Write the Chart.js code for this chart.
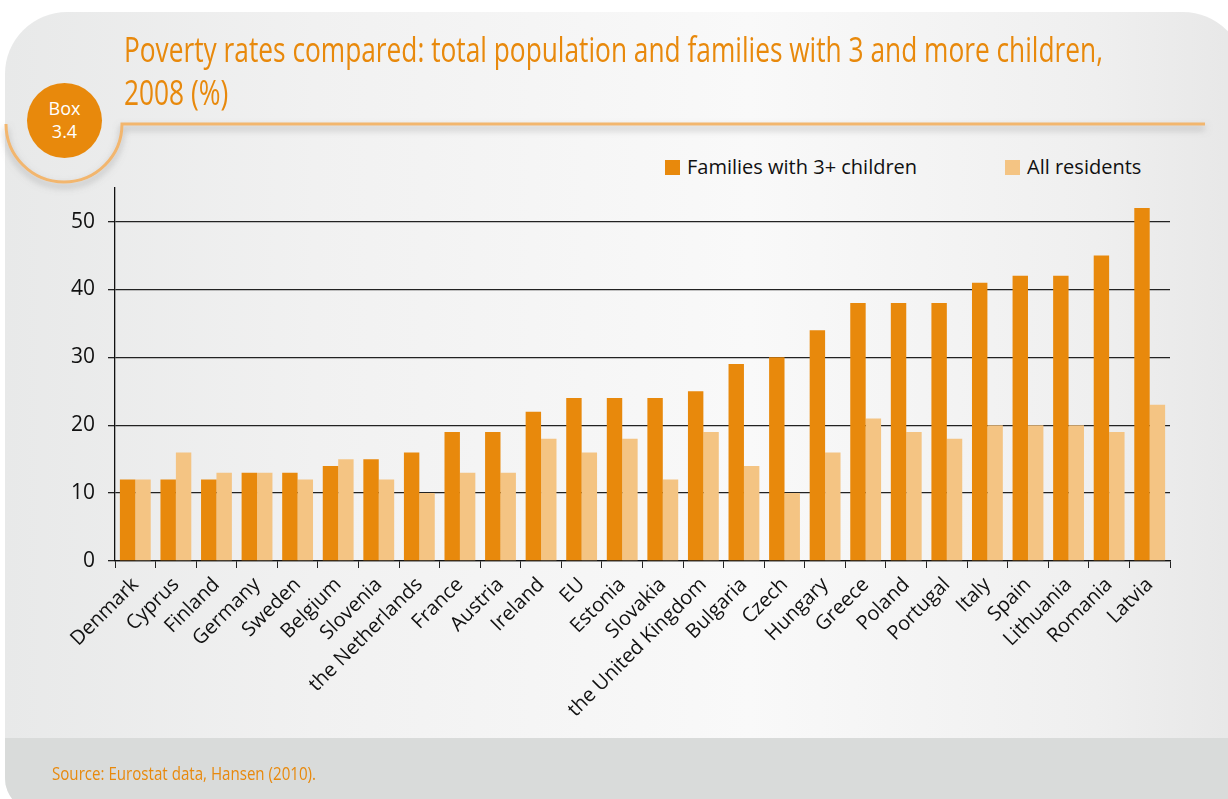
<!DOCTYPE html>
<html>
<head>
<meta charset="utf-8">
<script src="https://cdn.jsdelivr.net/npm/chart.js@4"></script>
<style>
  html, body { margin: 0; padding: 0; background: #fff; }
  #page { position: relative; width: 1228px; height: 799px; overflow: hidden; font-family: "Open Sans", sans-serif; }
  #panel {
    position: absolute; left: 5px; top: 12px; width: 1240px; height: 800px;
    border-radius: 62px 62px 0 34px;
    background: linear-gradient(to right, #e8e9e9 0%, #f1f1f1 25%, #f9f9f9 60%, #efefef 88%, #e7e7e7 100%);
    overflow: hidden;
  }
  #footer { position: absolute; left: 0; top: 726px; width: 100%; height: 80px; background: #d9dbda; }
  .title {
    position: absolute; left: 124px; color: #e8890c; white-space: nowrap;
    font-family: "Open Sans", sans-serif; font-size: 34px; line-height: 44px;
    transform-origin: 0 0;
  }
  #source { position: absolute; left: 52px; top: 760px; color: #e8890c; font-size: 19px; white-space: nowrap; transform-origin: 0 0; }
  #deco { position: absolute; left: 0; top: 0; }
  #badge {
    position: absolute; left: 27px; top: 83px; width: 75px; height: 75px; border-radius: 50%;
    background: #e8890c; color: #fff; text-align: center;
    font-family: "Open Sans", sans-serif; font-size: 18px; line-height: 23px;
    padding-top: 14px; box-sizing: border-box;
  }
  .legendItem { position: absolute; top: 153px; font-size: 20px; line-height: 28px; color: #111; white-space: nowrap; }
  .legendItem span { display: inline-block; width: 15px; height: 15px; margin-right: 7px; vertical-align: -1px; }
  #chartBox { position: absolute; left: 58px; top: 162px; width: 1122px; height: 565px; }
</style>
</head>
<body>
<div id="page">
  <div id="panel"><div id="footer"></div></div>
  <svg id="deco" width="1228" height="799">
    <defs>
      <filter id="sh" x="-5%" y="-50%" width="110%" height="300%">
        <feDropShadow dx="0" dy="4" stdDeviation="3.5" flood-color="#777" flood-opacity="0.55"/>
      </filter>
    </defs>
    <path d="M1205 124 L122 124 A58 58 0 1 1 6 124" fill="none" stroke="#f2b66e" stroke-width="3" filter="url(#sh)"/>
  </svg>
  <div id="badge">Box<br>3.4</div>
  <div class="title" id="t1" style="top:27px">Poverty rates compared: total population and families with 3 and more children,</div>
  <div class="title" id="t2" style="top:70px">2008 (%)</div>
  <div id="legend"></div>
  <div id="chartBox"><canvas id="chart"></canvas></div>
  <div id="source">Source: Eurostat data, Hansen (2010).</div>
</div>
<script>
// categories and values
const countries = ["Denmark", "Cyprus", "Finland", "Germany", "Sweden", "Belgium", "Slovenia",
  "the Netherlands", "France", "Austria", "Ireland", "EU", "Estonia", "Slovakia",
  "the United Kingdom", "Bulgaria", "Czech", "Hungary", "Greece", "Poland", "Portugal",
  "Italy", "Spain", "Lithuania", "Romania", "Latvia"];
const families3plus = [12, 12, 12, 13, 13, 14, 15, 16, 19, 19, 22, 24, 24, 24, 25, 29, 30, 34, 38, 38, 38, 41, 42, 42, 45, 52];
const allResidents = [12, 16, 13, 13, 12, 15, 12, 10, 13, 13, 18, 16, 18, 12, 19, 14, 10, 16, 21, 19, 18, 20, 20, 20, 19, 23];
const yTicks = [0, 10, 20, 30, 40, 50];

// squeeze the title into the condensed width of the original
const t1 = document.getElementById("t1");
const sx = 979 / t1.getBoundingClientRect().width;
t1.style.transform = "scaleX(" + sx + ")";
document.getElementById("t2").style.transform = "scaleX(" + sx + ")";
const src = document.getElementById("source");
src.style.transform = "scaleX(" + (264 / src.getBoundingClientRect().width) + ")";

const font = "'Open Sans', sans-serif";

const chart = new Chart(document.getElementById("chart"), {
  type: "bar",
  data: {
    labels: countries,
    datasets: [
      { label: "Families with 3+ children", data: families3plus, backgroundColor: "#e8890c" },
      { label: "All residents", data: allResidents, backgroundColor: "#f4c483" }
    ]
  },
  options: {
    responsive: true,
    maintainAspectRatio: false,
    animation: false,
    categoryPercentage: 0.76,
    barPercentage: 1,
    layout: { padding: { top: 10, right: 10 } },
    plugins: {
      tooltip: { enabled: false },
      legend: { display: false }
    },
    scales: {
      x: {
        grid: { offset: true, drawOnChartArea: false, color: "#222", tickLength: 7 },
        border: { color: "#111", width: 1.3 },
        ticks: { minRotation: 45, maxRotation: 45, color: "#111", padding: 5, font: { family: font, size: 20 } }
      },
      y: {
        min: 0,
        max: 55,
        afterBuildTicks: s => { s.ticks = yTicks.map(v => ({ value: v })); },
        grid: { color: "#222", lineWidth: 1.3, tickLength: 7 },
        border: { color: "#111", width: 1.3 },
        ticks: { color: "#111", padding: 13, font: { family: font, size: 21 } }
      }
    }
  }
});

// legend laid out like the original, one item per dataset
const legendX = [665, 1005];
chart.data.datasets.forEach((ds, i) => {
  const item = document.createElement("div");
  item.className = "legendItem";
  item.style.left = legendX[i] + "px";
  item.innerHTML = '<span style="background:' + ds.backgroundColor + '"></span>' + ds.label;
  document.getElementById("legend").appendChild(item);
});
</script>
</body>
</html>
